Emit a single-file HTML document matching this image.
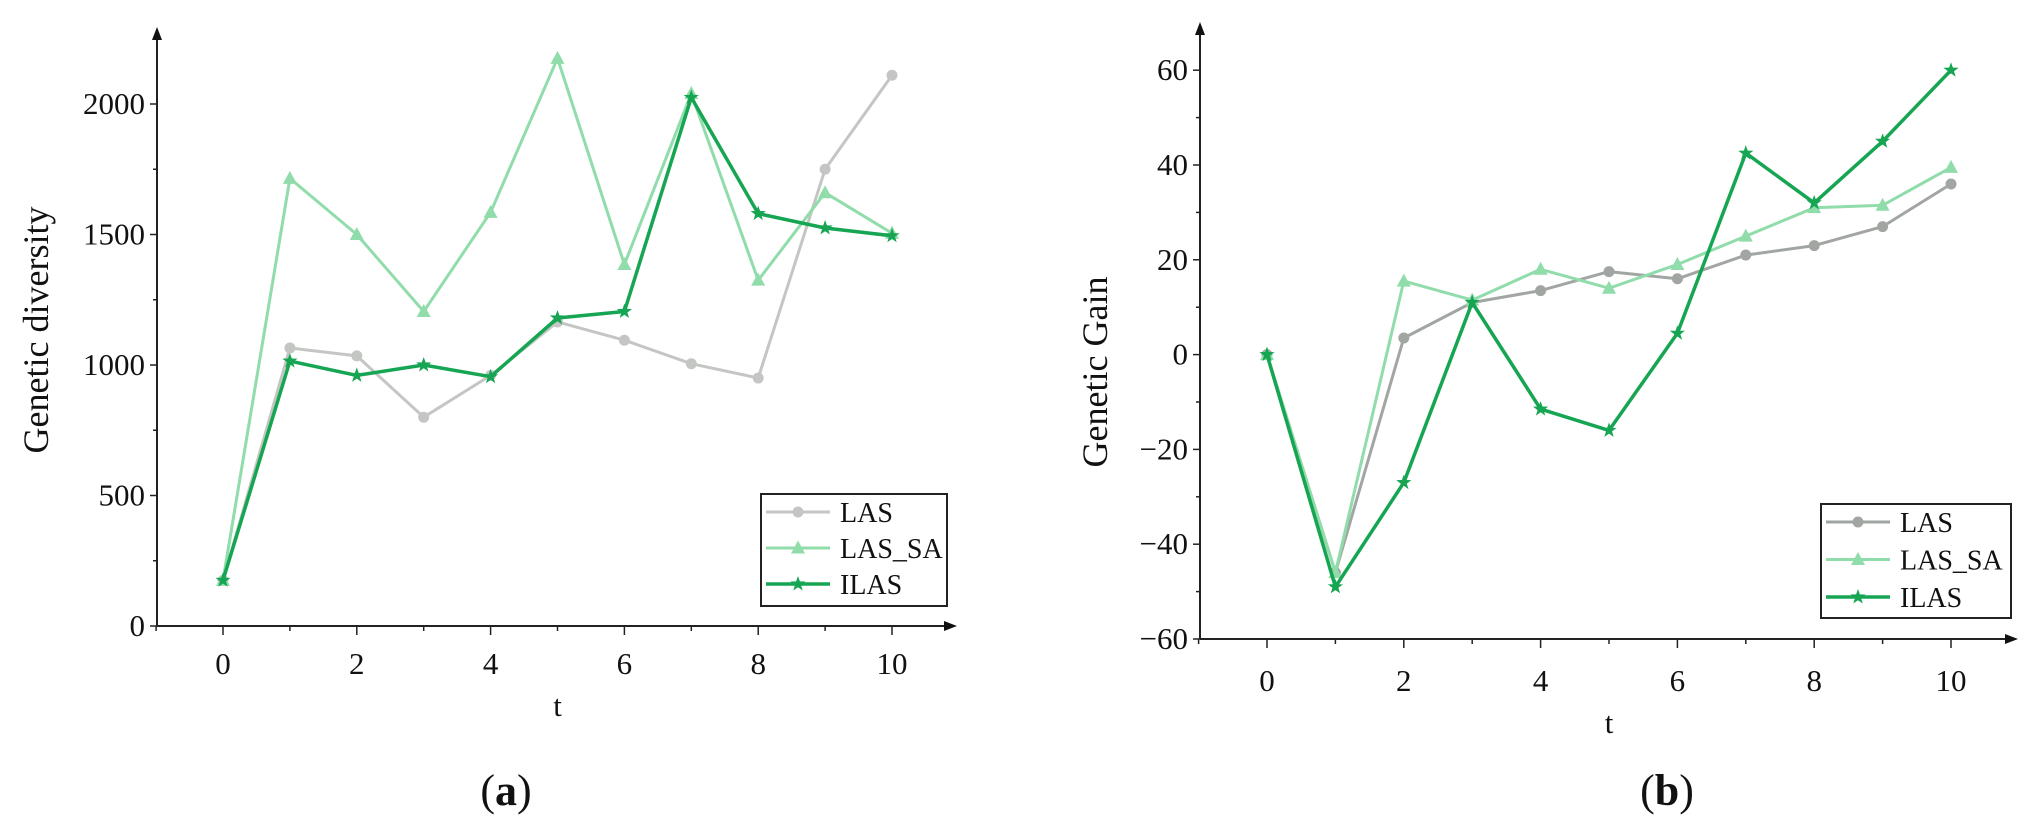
<!DOCTYPE html>
<html><head><meta charset="utf-8"><style>
html,body{margin:0;padding:0;background:#fff}
svg{display:block}
text{font-family:"Liberation Serif",serif;fill:#111}
</style></head><body>
<svg id="svg" width="2036" height="835" viewBox="0 0 2036 835"></svg>
<script>
const tVals=[0,1,2,3,4,5,6,7,8,9,10];
const xTicks=[0,2,4,6,8,10];
const aLAS=[175,1065,1035,800,960,1165,1095,1005,950,1750,2110];
const aLASSA=[175,1715,1500,1205,1585,2175,1385,2040,1325,1660,1505];
const aILAS=[175,1015,960,1000,955,1180,1205,2025,1580,1525,1495];
const aYTicks=[0,500,1000,1500,2000];
const bLAS=[0,-46,3.5,11,13.5,17.5,16,21,23,27,36];
const bLASSA=[0,-46,15.5,11.5,18,14,19,25,31,31.5,39.5];
const bILAS=[0,-49,-27,11,-11.5,-16,4.5,42.5,32,45,60];
const bYTicks=[-60,-40,-20,0,20,40,60];
const seriesNames=["LAS","LAS_SA","ILAS"];

const NS="http://www.w3.org/2000/svg";
const svg=document.getElementById('svg');
function mk(tag,attrs,parent){const e=document.createElementNS(NS,tag);for(const k in attrs)e.setAttribute(k,attrs[k]);(parent||svg).appendChild(e);return e;}

function marker(g,type,x,y,col){
  let e;
  if(type==='circle'){e=mk('circle',{cx:x,cy:y,r:5.5,fill:col},g);}
  else if(type==='tri'){e=mk('polygon',{points:`${x},${y-7.5} ${x-7},${y+5.5} ${x+7},${y+5.5}`,fill:col},g);}
  else{let p=[];for(let i=0;i<10;i++){const r=i%2?3.2:8;const a=-Math.PI/2+i*Math.PI/5;p.push((x+r*Math.cos(a)).toFixed(1)+','+(y+r*Math.sin(a)).toFixed(1));}
    e=mk('polygon',{points:p.join(' '),fill:col},g);}
  
  
}

function chart(cfg){
  const g=mk('g',{});
  
  
  const X=v=>cfg.x0+v*cfg.xs;
  const Y=v=>cfg.yBase-(v-cfg.yMin)*cfg.ys;
  const ya=mk('path',{d:`M${cfg.ax},${cfg.yBase} V${cfg.top+10}`,stroke:'#222','stroke-width':2,fill:'none'},g);
  
  mk('polygon',{points:`${cfg.ax},${cfg.top} ${cfg.ax-5},${cfg.top+13} ${cfg.ax+5},${cfg.top+13}`,fill:'#111'},g);
  const xa=mk('path',{d:`M${cfg.ax},${cfg.yBase} H${cfg.right-10}`,stroke:'#222','stroke-width':2,fill:'none'},g);
  
  mk('polygon',{points:`${cfg.right},${cfg.yBase} ${cfg.right-13},${cfg.yBase-5} ${cfg.right-13},${cfg.yBase+5}`,fill:'#111'},g);
  cfg.yTicks.forEach((v,i)=>{
    mk('line',{x1:cfg.ax-7,x2:cfg.ax,y1:Y(v),y2:Y(v),stroke:'#222','stroke-width':1.5},g);
    if(i<cfg.yTicks.length-1){const m=(v+cfg.yTicks[i+1])/2;mk('line',{x1:cfg.ax-4,x2:cfg.ax,y1:Y(m),y2:Y(m),stroke:'#222','stroke-width':1.5},g);}
    const t=mk('text',{x:cfg.ax-12,y:Y(v)+10,'text-anchor':'end','font-size':31},g);
    t.textContent=String(v).replace('-','\u2212');
    
  });
  for(let v=-1;v<=10;v++){
    const big=v%2===0&&v>=0;
    mk('line',{x1:X(v),x2:X(v),y1:cfg.yBase,y2:cfg.yBase+(big?9:5),stroke:'#222','stroke-width':1.5},g);
  }
  xTicks.forEach(v=>{
    const t=mk('text',{x:X(v),y:cfg.tickY,'text-anchor':'middle','font-size':31},g);
    t.textContent=v;
  });
  const xt=mk('text',{x:X(5),y:cfg.tickY+42,'text-anchor':'middle','font-size':31},g);
  xt.textContent='t';
  const yt=mk('text',{x:0,y:0,'text-anchor':'middle','font-size':36,transform:`translate(${cfg.ylx},${cfg.yly}) rotate(-90)`},g);
  yt.textContent=cfg.ylabel;
  const ss=[[cfg.d[0],cfg.cols[0],'circle'],[cfg.d[1],cfg.cols[1],'tri'],[cfg.d[2],cfg.cols[2],'star']];
  ss.forEach((s,k)=>{
    const sg=mk('g',{},g);
    
    
    const pts=s[0].map((v,i)=>X(tVals[i]).toFixed(1)+','+Y(v).toFixed(1)).join(' ');
    mk('polyline',{points:pts,fill:'none',stroke:s[1],'stroke-width':k===2?3.5:3,'stroke-linejoin':'round'},sg);
    s[0].forEach((v,i)=>marker(sg,s[2],X(tVals[i]),Y(v),s[1]));
  });
  const lg=mk('g',{},g);
  
  mk('rect',{x:cfg.lx,y:cfg.ly,width:cfg.lw,height:cfg.lh,fill:'#fff',stroke:'#222','stroke-width':2},lg);
  ss.forEach((s,k)=>{
    const ey=cfg.ly+18+k*cfg.lstep;
    const eg=mk('g',{},lg);
    
    mk('line',{x1:cfg.lx+5,x2:cfg.lx+69,y1:ey,y2:ey,stroke:s[1],'stroke-width':k===2?3.5:3},eg);
    marker(eg,s[2],cfg.lx+37,ey,s[1]);
    const t=mk('text',{x:cfg.lx+79,y:ey+10,'font-size':28},eg);t.textContent=seriesNames[k];
  });
  const cap=mk('text',{x:cfg.capX,y:805,'text-anchor':'middle','font-size':44},g);
  cap.innerHTML='(<tspan font-weight="bold">'+cfg.cap+'</tspan>)';
  
}

chart({name:'chart-a',x0:223,xs:66.9,ax:157,top:27,right:957,yBase:626,yMin:0,ys:0.261,
  yTicks:aYTicks,tickY:674,ylabel:'Genetic diversity',ylx:48,yly:330,
  d:[aLAS,aLASSA,aILAS],cols:['#c4c6c4','#90dcaa','#16a552'],
  lx:761,ly:494,lw:186,lh:112,lstep:36,capX:506,cap:'a'});
chart({name:'chart-b',x0:1267,xs:68.4,ax:1200,top:22,right:2018,yBase:639,yMin:-60,ys:4.74,
  yTicks:bYTicks,tickY:691,ylabel:'Genetic Gain',ylx:1107,yly:372,
  d:[bLAS,bLASSA,bILAS],cols:['#a2a6a2','#90dcaa','#16a552'],
  lx:1821,ly:504,lw:190,lh:114,lstep:37.5,capX:1667,cap:'b'});
</script>
</body></html>
